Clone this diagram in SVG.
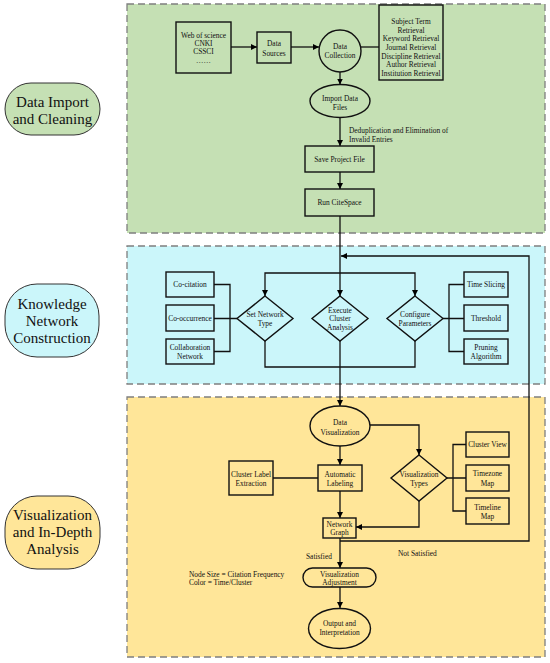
<svg xmlns="http://www.w3.org/2000/svg" width="550" height="663" viewBox="0 0 550 663">
<defs>
<marker id="ah" markerWidth="6" markerHeight="6" refX="6" refY="3" orient="auto" markerUnits="userSpaceOnUse"><path d="M0,0 L6,3 L0,6 z" fill="#000"/></marker>
<style>
.t{font-family:"Liberation Serif","Times New Roman",serif;font-size:7.4px;fill:#111;text-anchor:middle}
.s{text-anchor:start}
.big{font-size:15px}
.b{fill:none;stroke:#111;stroke-width:1.4}
.l{fill:none;stroke:#111;stroke-width:1.3}
.a{marker-end:url(#ah)}
.pan{stroke:#7f7f7f;stroke-width:1.3;stroke-dasharray:7 4}
.st{stroke:#333;stroke-width:1}
</style>
</defs>
<rect width="550" height="663" fill="#fff"/>
<g id="panels">
<rect class="pan" x="127" y="4" width="418" height="229" fill="#c5e0b4"/>
<rect class="pan" x="127" y="246" width="418" height="138" fill="#cbf6fa"/>
<rect class="pan" x="127" y="397" width="418" height="260" fill="#ffe699"/>
</g>
<g id="stage-labels">
<g id="stage1"><rect class="st" x="5" y="83" width="95" height="52" rx="26" fill="#c5e0b4"/><text class="t big" x="52.5" y="107">Data Import</text><text class="t big" x="52.5" y="124">and Cleaning</text></g>
<g id="stage2"><rect class="st" x="5" y="284" width="94" height="73" rx="32" fill="#cbf6fa"/><text class="t big" x="52" y="309">Knowledge</text><text class="t big" x="52" y="326">Network</text><text class="t big" x="52" y="343">Construction</text></g>
<g id="stage3"><rect class="st" x="5" y="496" width="95" height="73" rx="32" fill="#ffe699"/><text class="t big" x="52.5" y="520">Visualization</text><text class="t big" x="52.5" y="537">and In-Depth</text><text class="t big" x="52.5" y="554">Analysis</text></g>
</g>
<g id="connectors">
<line class="l a" x1="231" y1="47" x2="257" y2="47"/>
<line class="l a" x1="291" y1="47" x2="319" y2="47"/>
<line class="l" x1="361" y1="47" x2="379" y2="47"/>
<line class="l a" x1="340" y1="72" x2="340" y2="84.5"/>
<line class="l a" x1="340" y1="117.5" x2="340" y2="146"/>
<line class="l a" x1="340" y1="172" x2="340" y2="189"/>
<line class="l a" x1="340" y1="216" x2="340" y2="296"/>
<path class="l a" d="M340,273 H265 V296"/>
<path class="l a" d="M340,273 H415 V296"/>
<path class="l" d="M265,341 V367 H415 V341"/>
<line class="l a" x1="340" y1="341" x2="340" y2="406"/>
<path class="l" d="M214,284.5 H230 V351.5 H214 M214,318.5 H237"/>
<path class="l" d="M464,284.5 H449 V351.5 H464 M443,318.5 H464"/>
<path class="l a" d="M340,541 H529 V256 H341"/>
<path class="l a" d="M370,425 H419 V455"/>
<path class="l" d="M466,444.5 H453 V511 H466 M447,478 H466"/>
<path class="l a" d="M419,501 V527 H356"/>
<line class="l a" x1="340" y1="446" x2="340" y2="465"/>
<line class="l" x1="273" y1="478" x2="318" y2="478"/>
<line class="l a" x1="340" y1="491" x2="340" y2="518"/>
<line class="l a" x1="340" y1="538" x2="340" y2="568"/>
<line class="l a" x1="340" y1="587" x2="340" y2="608"/>
</g>
<g id="edge-labels">
<text class="t s" x="349" y="132.5">Deduplication and Elimination of</text>
<text class="t s" x="349" y="141.5">Invalid Entries</text>
<text class="t s" x="306" y="558.5">Satisfied</text>
<text class="t s" x="398" y="555.5">Not Satisfied</text>
<text class="t s" x="189" y="576.5">Node Size = Citation Frequency</text>
<text class="t s" x="189" y="584.5">Color = Time/Cluster</text>
</g>
<g id="n-sources-list"><rect class="b" x="176" y="22" width="55" height="51"/><text class="t" x="203.5" y="37.5">Web of science</text><text class="t" x="203.5" y="45.5">CNKI</text><text class="t" x="203.5" y="53.5">CSSCI</text><text class="t" x="203.5" y="63">……</text></g>
<g id="n-data-sources"><rect class="b" x="257" y="32" width="34" height="31"/><text class="t" x="274" y="45.5">Data</text><text class="t" x="274" y="55.5">Sources</text></g>
<g id="n-data-collection"><circle class="b" cx="340" cy="51" r="21"/><text class="t" x="340" y="48.5">Data</text><text class="t" x="340" y="57.5">Collection</text></g>
<g id="n-retrieval"><rect class="b" x="379" y="5" width="64" height="75"/><text class="t" x="411" y="24.2">Subject Term</text><text class="t" x="411" y="32.8">Retrieval</text><text class="t" x="411" y="41.4">Keyword Retrieval</text><text class="t" x="411" y="50">Journal Retrieval</text><text class="t" x="411" y="58.6">Discipline Retrieval</text><text class="t" x="411" y="67.2">Author Retrieval</text><text class="t" x="411" y="75.8">Institution Retrieval</text></g>
<g id="n-import"><ellipse class="b" cx="340" cy="101" rx="30" ry="16.5"/><text class="t" x="340" y="101">Import Data</text><text class="t" x="340" y="110">Files</text></g>
<g id="n-save"><rect class="b" x="305" y="146" width="69" height="26"/><text class="t" x="339.5" y="161.5">Save Project File</text></g>
<g id="n-run"><rect class="b" x="305" y="189" width="69" height="27"/><text class="t" x="339.5" y="205">Run CiteSpace</text></g>
<g id="n-cocitation"><rect class="b" x="166" y="272" width="48" height="25"/><text class="t" x="190" y="287">Co-citation</text></g>
<g id="n-cooccurrence"><rect class="b" x="166" y="305" width="48" height="26"/><text class="t" x="190" y="320.5">Co-occurrence</text></g>
<g id="n-collab"><rect class="b" x="166" y="339" width="48" height="25"/><text class="t" x="190" y="349.5">Collaboration</text><text class="t" x="190" y="359">Network</text></g>
<g id="n-set-type"><path class="b" d="M265,296 L293,318.5 L265,341 L237,318.5 Z"/><text class="t" x="265" y="316.5">Set Network</text><text class="t" x="265" y="325.5">Type</text></g>
<g id="n-execute"><path class="b" d="M340,296 L368,318.5 L340,341 L312,318.5 Z"/><text class="t" x="340" y="312.6">Execute</text><text class="t" x="340" y="321.4">Cluster</text><text class="t" x="340" y="330">Analysis</text></g>
<g id="n-configure"><path class="b" d="M415,296 L443,318.5 L415,341 L387,318.5 Z"/><text class="t" x="415" y="316.5">Configure</text><text class="t" x="415" y="325.5">Parameters</text></g>
<g id="n-time"><rect class="b" x="464" y="272" width="44" height="25"/><text class="t" x="486" y="287">Time Slicing</text></g>
<g id="n-threshold"><rect class="b" x="464" y="305" width="44" height="26"/><text class="t" x="486" y="320.5">Threshold</text></g>
<g id="n-pruning"><rect class="b" x="464" y="339" width="44" height="25"/><text class="t" x="486" y="349.5">Pruning</text><text class="t" x="486" y="359">Algorithm</text></g>
<g id="n-data-vis"><ellipse class="b" cx="340" cy="426" rx="30" ry="20"/><text class="t" x="340" y="424.5">Data</text><text class="t" x="340" y="434.5">Visualization</text></g>
<g id="n-vis-types"><path class="b" d="M419,455 L447,478 L419,501 L391,478 Z"/><text class="t" x="419" y="476.5">Visualization</text><text class="t" x="419" y="485.5">Types</text></g>
<g id="n-cluster-view"><rect class="b" x="466" y="432" width="43" height="25"/><text class="t" x="487.5" y="447">Cluster View</text></g>
<g id="n-timezone"><rect class="b" x="466" y="465" width="43" height="26"/><text class="t" x="487.5" y="476">Timezone</text><text class="t" x="487.5" y="485.5">Map</text></g>
<g id="n-timeline"><rect class="b" x="466" y="498" width="43" height="26"/><text class="t" x="487.5" y="509.5">Timeline</text><text class="t" x="487.5" y="518.5">Map</text></g>
<g id="n-auto-label"><rect class="b" x="318" y="465" width="44" height="26"/><text class="t" x="340" y="476.5">Automatic</text><text class="t" x="340" y="485.5">Labeling</text></g>
<g id="n-cluster-label"><rect class="b" x="229" y="461" width="44" height="34"/><text class="t" x="251" y="476.5">Cluster Label</text><text class="t" x="251" y="485.5">Extraction</text></g>
<g id="n-network-graph"><rect class="b" x="323" y="518" width="33" height="20"/><text class="t" x="339.5" y="526.6">Network</text><text class="t" x="339.5" y="535.4">Graph</text></g>
<g id="n-vis-adjust"><rect class="b" x="303" y="568" width="73" height="19" rx="9.5"/><text class="t" x="339.5" y="576.6">Visualization</text><text class="t" x="339.5" y="584.6">Adjustment</text></g>
<g id="n-output"><ellipse class="b" cx="339.5" cy="628.5" rx="31" ry="20"/><text class="t" x="339.5" y="625.5">Output and</text><text class="t" x="339.5" y="634.5">Interpretation</text></g>
</svg>
